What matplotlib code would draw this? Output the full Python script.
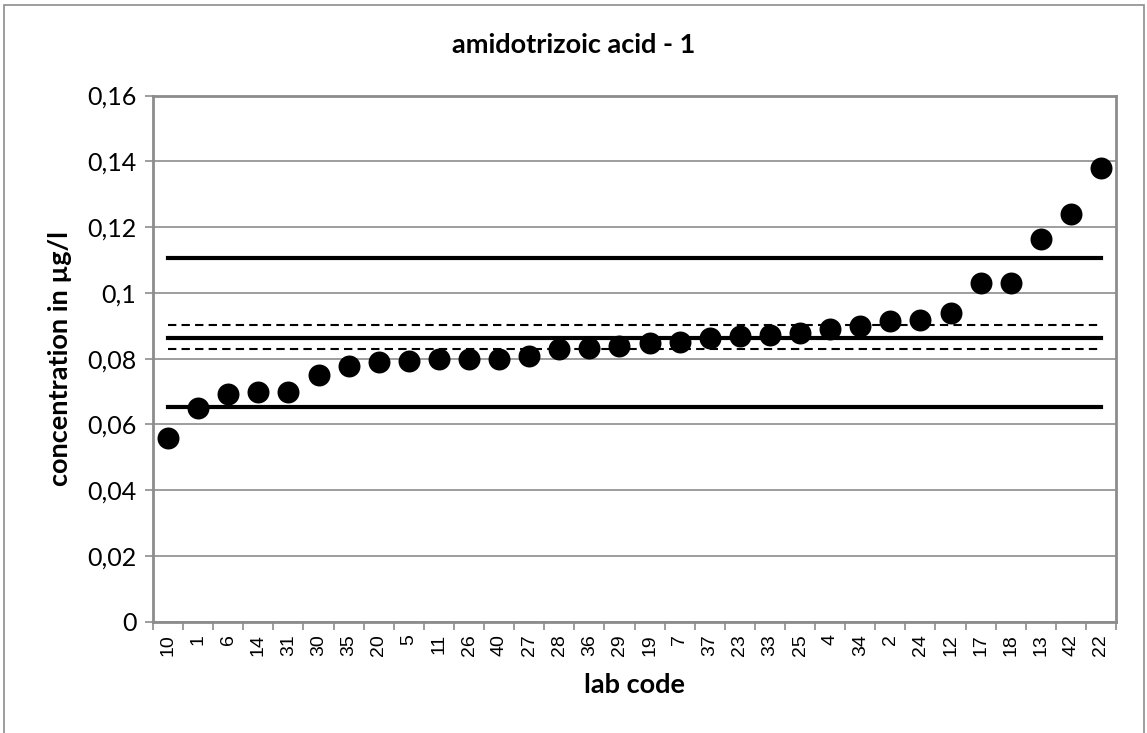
import matplotlib.pyplot as plt
import numpy as np
from matplotlib.patches import Rectangle
from matplotlib.ticker import FuncFormatter, FixedLocator

lab_codes = ["10", "1", "6", "14", "31", "30", "35", "20", "5", "11", "26", "40",
             "27", "28", "36", "29", "19", "7", "37", "23", "33", "25", "4", "34",
             "2", "24", "12", "17", "18", "13", "42", "22"]
concentration = [0.0559, 0.0650, 0.0692, 0.0697, 0.0700, 0.0749, 0.0778, 0.0790,
                 0.0792, 0.0798, 0.0798, 0.0798, 0.0809, 0.0828, 0.0832, 0.0838,
                 0.0849, 0.0851, 0.0863, 0.0869, 0.0873, 0.0878, 0.0889, 0.0899,
                 0.0913, 0.0917, 0.0939, 0.1030, 0.1030, 0.1164, 0.1241, 0.1380]

assigned_value = 0.0864
uncertainty_band = [0.0828, 0.0901]
tolerance_limits = [0.0654, 0.1107]

grey = "#8c8c8c"
plt.rcParams["font.family"] = ["Lato", "DejaVu Sans"]

fig = plt.figure(figsize=(11.47, 7.33), dpi=100)
ax = fig.add_axes([0.1334, 0.1518, 0.8396, 0.7179])

x = np.arange(len(lab_codes))
x_first, x_last = x[0], x[-1]

for lim in tolerance_limits:
    ax.plot([x_first, x_last], [lim, lim], color="black", lw=3.0, zorder=2)
ax.plot([x_first, x_last], [assigned_value, assigned_value], color="black", lw=3.0, zorder=2)
for lim in uncertainty_band:
    ax.plot([x_first, x_last], [lim, lim], color="black", lw=1.5,
            dashes=(4, 2.5), zorder=2)

ax.scatter(x, concentration, s=250, color="black", zorder=3, linewidths=0)

ax.set_xlim(-0.5, len(lab_codes) - 0.5)
ax.set_ylim(0, 0.16)
ax.set_yticks(np.arange(0, 0.161, 0.02))
ax.yaxis.set_major_formatter(FuncFormatter(
    lambda v, p: "0" if abs(v) < 1e-9 else f"{v:.2f}".rstrip("0").replace(".", ",")))
ax.grid(axis="y", color=grey, lw=1.2, zorder=0)

ax.set_xticks(x)
ax.set_xticklabels(lab_codes, rotation=90, family="Liberation Sans", fontsize=14)
ax.tick_params(axis="x", which="major", length=0, pad=9)
ax.xaxis.set_minor_locator(FixedLocator(np.arange(-0.5, len(lab_codes), 1)))
ax.tick_params(axis="x", which="minor", length=6, color=grey, width=1.2)
ax.tick_params(axis="y", length=6, color=grey, width=1.2, labelsize=18, pad=6)

for side in ax.spines.values():
    side.set_color(grey)
    side.set_linewidth(2)

fig.text(0.5, 1 - 45 / 733, "amidotrizoic acid - 1", fontsize=19.5,
         fontweight="bold", ha="center", va="center")
ax.set_xlabel("lab code", fontsize=19.5, fontweight="bold", va="center")
ax.xaxis.set_label_coords(0.5, -0.12)
ax.set_ylabel("concentration in µg/l", fontsize=19.5, fontweight="bold",
              va="center", ha="center")
ax.yaxis.set_label_coords(-0.0966, 0.5)

fig.patches.append(Rectangle((4 / 1147, -0.01), 1140 / 1147, 1.01 - 5 / 733,
                             transform=fig.transFigure, fill=False,
                             edgecolor=grey, lw=1.2))

fig.savefig("out.png", dpi=100)
